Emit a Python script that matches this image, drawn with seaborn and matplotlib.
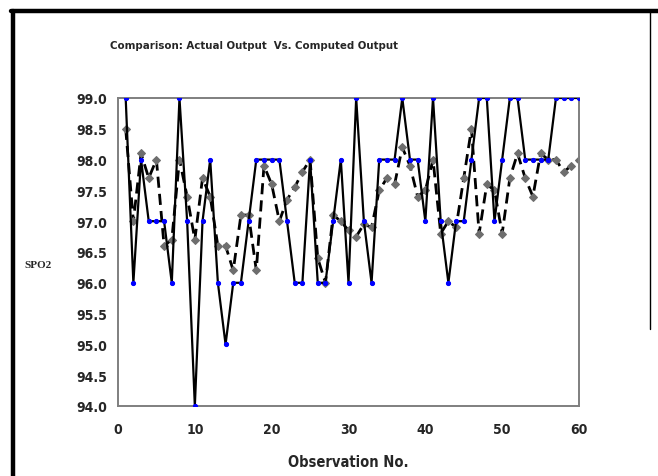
import numpy as np
import pandas as pd
import matplotlib
matplotlib.use("Agg")
import matplotlib.pyplot as plt
import seaborn as sns
from matplotlib.lines import Line2D
from matplotlib import font_manager as fm

# ---- data ----
observation = list(range(1, 61))
actual = [99, 96, 98, 97, 97, 97, 96, 99, 97, 94,
          97, 98, 96, 95, 96, 96, 97, 98, 98, 98,
          98, 97, 96, 96, 98, 96, 96, 97, 98, 96,
          99, 97, 96, 98, 98, 98, 99, 98, 98, 97,
          99, 97, 96, 97, 97, 98, 99, 99, 97, 98,
          99, 99, 98, 98, 98, 98, 99, 99, 99, 99]
computed = [98.5, 97.0, 98.1, 97.7, 98.0, 96.6, 96.7, 98.0, 97.4, 96.7,
            97.7, 97.4, 96.6, 96.6, 96.2, 97.1, 97.1, 96.2, 97.9, 97.6,
            97.0, 97.35, 97.55, 97.8, 98.0, 96.4, 96.0, 97.1, 97.0, 96.85,
            96.75, 96.95, 96.9, 97.5, 97.7, 97.6, 98.2, 97.9, 97.4, 97.5,
            98.0, 96.8, 97.0, 96.9, 97.7, 98.5, 96.8, 97.6, 97.5, 96.8,
            97.7, 98.1, 97.7, 97.4, 98.1, 98.0, 98.0, 97.8, 97.9, 98.0]
x_ticks = [0, 10, 20, 30, 40, 50, 60]
y_ticks = [94.0, 94.5, 95.0, 95.5, 96.0, 96.5, 97.0, 97.5, 98.0, 98.5, 99.0]

title = "Comparison: Actual Output  Vs. Computed Output"
xlabel = "Observation No."
ylabel = "SPO2"

df = pd.DataFrame({"obs": observation, "actual": actual, "computed": computed})

sns.set_style("white")

# pick a condensed bold font if one is installed
cond = None
for f in fm.fontManager.ttflist:
    if ("Condensed" in f.fname or "Narrow" in f.fname or "Narrow" in f.name) and f.weight in (700, "bold"):
        cond = f
        break
if cond is not None:
    narrow_fp = fm.FontProperties(fname=cond.fname)
else:
    narrow_fp = fm.FontProperties(family=["Liberation Sans", "DejaVu Sans"], weight="bold")
plt.rcParams["font.family"] = ["Liberation Sans", "DejaVu Sans"]

def fp(size):
    p = narrow_fp.copy()
    p.set_size(size)
    p.set_weight("bold")
    return p

fig = plt.figure(figsize=(6.58, 4.77), dpi=100)
ax = fig.add_axes([118 / 658, 1 - 407 / 477, 461 / 658, 308 / 477])

sns.lineplot(data=df, x="obs", y="computed", ax=ax, color="black", linewidth=2.0,
             linestyle=(0, (4, 2.2)), marker="D", markersize=4,
             markerfacecolor="#6e6e6e", markeredgecolor="#6e6e6e", zorder=2)
sns.lineplot(data=df, x="obs", y="actual", ax=ax, color="black", linewidth=1.6,
             marker="o", markersize=3, markerfacecolor="#0000ff",
             markeredgecolor="#0000ff", zorder=3)

ax.set_xlim(0, 60)
ax.set_ylim(94, 99)
ax.set_xticks(x_ticks)
ax.set_yticks(y_ticks)
ax.set_xticklabels([str(t) for t in x_ticks])
ax.set_yticklabels([f"{t:.1f}" for t in y_ticks])
ax.tick_params(axis="both", direction="inout", length=7, width=1.0, color="#222222", pad=4)
ax.tick_params(axis="x", pad=8)
for lab in ax.get_xticklabels() + ax.get_yticklabels():
    lab.set_fontproperties(fp(10))
ax.set_xlabel("")
ax.set_ylabel("")
for s in ax.spines.values():
    s.set_color("#7f7f7f")
    s.set_linewidth(1.4)
ax.grid(False)

fig.text(348 / 658, 1 - 463 / 477, xlabel, ha="center", va="center",
         fontproperties=fp(10.5))
fig.text(38 / 658, 1 - 265 / 477, ylabel, ha="center", va="center",
         fontsize=8, fontweight="bold", family=["Liberation Serif", "DejaVu Serif"])
fig.text(110 / 658, 1 - 46 / 477, title, ha="left", va="center",
         fontproperties=fp(8.2))

# frame lines of the figure
fig.add_artist(Line2D([12.5 / 658, 12.5 / 658], [0, 1 - 12 / 477],
                      transform=fig.transFigure, color="black", linewidth=3.2))
fig.add_artist(Line2D([11 / 658, 1], [1 - 12 / 477, 1 - 12 / 477],
                      transform=fig.transFigure, color="black", linewidth=3.2))
fig.add_artist(Line2D([650 / 658, 650 / 658], [1 - 330 / 477, 1 - 12 / 477],
                      transform=fig.transFigure, color="black", linewidth=1.0))

fig.savefig("out.png", dpi=100)
